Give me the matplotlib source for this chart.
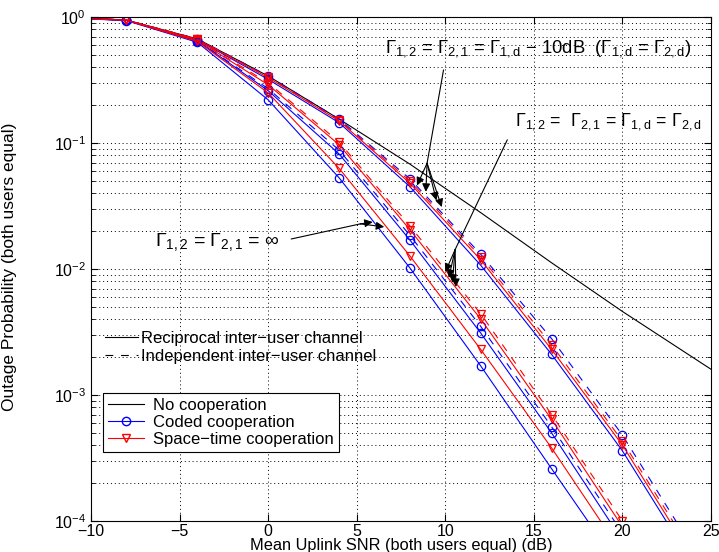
import numpy as np
import matplotlib.pyplot as plt
from matplotlib.lines import Line2D

plt.rcParams['font.family'] = ['Liberation Sans', 'DejaVu Sans']
plt.rcParams['mathtext.fontset'] = 'custom'
plt.rcParams['mathtext.rm'] = 'Liberation Sans'
plt.rcParams['mathtext.it'] = 'Liberation Sans:italic'
plt.rcParams['mathtext.bf'] = 'Liberation Sans:bold'

# SNR (dB) where the curves are sampled; markers sit on -8..20
snr = [-10, -8, -4, 0, 4, 8, 12, 16, 20, 24]
snr_nc = [-10, -8, -4, 0, 4, 8, 12, 16, 20, 25]

# no cooperation
p_nocoop = [0.975, 0.945, 0.67, 0.34, 0.155, 0.068, 0.028, 0.0112, 0.0046, 0.0016]

# inter-user channel 10 dB below uplink
pA_coded_rec = [0.975, 0.945, 0.66, 0.32, 0.145, 0.045, 0.0107, 0.0021, 0.00036, 0.000045]
pA_coded_ind = [0.975, 0.945, 0.67, 0.34, 0.155, 0.052, 0.0131, 0.0028, 0.00048, 0.00006]
pA_st_rec = [0.975, 0.945, 0.665, 0.33, 0.15, 0.048, 0.0118, 0.0023, 0.0004, 0.00005]
pA_st_ind = [0.975, 0.945, 0.67, 0.335, 0.152, 0.050, 0.0125, 0.0025, 0.00043, 0.000055]

# all channels equal
pB_coded_rec = [0.97, 0.94, 0.65, 0.26, 0.082, 0.0170, 0.0031, 0.0005, 0.00007, 0.00001]
pB_coded_ind = [0.97, 0.94, 0.65, 0.27, 0.088, 0.0185, 0.0035, 0.00056, 0.00008, 0.000012]
pB_st_rec = [0.97, 0.945, 0.655, 0.29, 0.097, 0.0205, 0.0040, 0.00064, 0.00009, 0.000013]
pB_st_ind = [0.97, 0.945, 0.66, 0.30, 0.102, 0.0220, 0.0044, 0.0007, 0.0001, 0.000015]

# perfect inter-user channel
pC_coded = [0.965, 0.935, 0.63, 0.22, 0.053, 0.0102, 0.0017, 0.00026, 0.00004, 0.000006]
pC_st = [0.965, 0.94, 0.64, 0.25, 0.063, 0.0127, 0.0023, 0.00038, 0.000055, 0.000008]

fig = plt.figure(figsize=(7.19, 5.52), dpi=100)
ax = fig.add_axes([0.1266, 0.0562, 0.8623, 0.9130])

lw = 0.8
mk = dict(markersize=6, markerfacecolor='none', markeredgewidth=0.9, markevery=slice(1, 9))
dash = (0, (7, 7))

ax.semilogy(snr_nc, p_nocoop, 'k-', lw=lw)

ax.semilogy(snr, pA_coded_rec, 'b-', marker='o', lw=lw, **mk)
ax.semilogy(snr, pA_coded_ind, 'b', linestyle=dash, marker='o', lw=lw, **mk)
ax.semilogy(snr, pA_st_rec, 'r-', marker='v', lw=lw, **mk)
ax.semilogy(snr, pA_st_ind, 'r', linestyle=dash, marker='v', lw=lw, **mk)

ax.semilogy(snr, pB_coded_rec, 'b-', marker='o', lw=lw, **mk)
ax.semilogy(snr, pB_coded_ind, 'b', linestyle=dash, marker='o', lw=lw, **mk)
ax.semilogy(snr, pB_st_rec, 'r-', marker='v', lw=lw, **mk)
ax.semilogy(snr, pB_st_ind, 'r', linestyle=dash, marker='v', lw=lw, **mk)

ax.semilogy(snr, pC_coded, 'b-', marker='o', lw=lw, **mk)
ax.semilogy(snr, pC_st, 'r-', marker='v', lw=lw, **mk)

ax.set_xlim(-10, 25)
ax.set_ylim(1e-4, 1)
ax.set_xticks(np.arange(-10, 26, 5))
ax.grid(True, which='major', color='k', linestyle=(0, (1, 3)), lw=0.7)
ax.grid(True, which='minor', axis='y', color='k', linestyle=(0, (1, 3)), lw=0.7)
ax.tick_params(which='both', direction='in', top=True, right=True, labelsize=11.5)
ax.tick_params(axis='x', pad=2)
ax.tick_params(which='major', length=5)
ax.tick_params(which='minor', length=3)
for s in ax.spines.values():
    s.set_linewidth(0.8)

ax.set_xlabel('Mean Uplink SNR (both users equal) (dB)', fontsize=11.8)
ax.xaxis.set_label_coords(0.5, -0.034)
ax.set_ylabel('Outage Probability (both users equal)', fontsize=12.5)
ax.yaxis.set_label_coords(-0.119, 0.504)

# annotations
arr = dict(arrowstyle='-|>', color='k', lw=0.8, mutation_scale=12, shrinkA=0, shrinkB=0)
seg = dict(arrowstyle='-', color='k', lw=0.8, shrinkA=0, shrinkB=0)

ax.text(6.6, 0.56, r'$\Gamma_{1,2}$ = $\Gamma_{2,1}$ = $\Gamma_{\mathrm{1,d}}$ $-$ 10dB  ($\Gamma_{\mathrm{1,d}}$ = $\Gamma_{\mathrm{2,d}}$)',
        fontsize=13.3, va='center')
ax.annotate('', xy=(8.97, 0.069), xytext=(9.9, 0.38), arrowprops=seg)
for xt, yt in [(8.4, 0.046), (8.9, 0.041), (9.5, 0.035), (9.8, 0.031)]:
    ax.annotate('', xy=(xt, yt), xytext=(8.97, 0.069), arrowprops=arr)

ax.text(13.95, 0.148, r'$\Gamma_{1,2}$ =  $\Gamma_{2,1}$ = $\Gamma_{\mathrm{1,d}}$ = $\Gamma_{\mathrm{2,d}}$',
        fontsize=12.9, va='center')
ax.annotate('', xy=(10.55, 0.0142), xytext=(13.5, 0.106), arrowprops=seg)
for xt, yt in [(10.0, 0.0095), (10.2, 0.0085), (10.4, 0.0078), (10.6, 0.0072)]:
    ax.annotate('', xy=(xt, yt), xytext=(10.55, 0.0142), arrowprops=arr)

ax.text(-6.4, 0.0165, r'$\Gamma_{1,2}$ = $\Gamma_{2,1}$ = $\infty$', fontsize=14, va='center')
ax.annotate('', xy=(5.2, 0.0228), xytext=(1.3, 0.0173), arrowprops=seg)
for xt, yt in [(5.9, 0.0236), (6.55, 0.0216)]:
    ax.annotate('', xy=(xt, yt), xytext=(5.2, 0.0228), arrowprops=arr)

# channel-type legend, no frame
ch_handles = [Line2D([], [], color='k', lw=lw),
              Line2D([], [], color='k', lw=lw, linestyle=dash)]
leg1 = ax.legend(ch_handles, ['Reciprocal inter\u2212user channel', 'Independent inter\u2212user channel'],
                 loc='upper left', bbox_to_anchor=(0.012, 0.39), frameon=False, fontsize=12,
                 handlelength=2.0, handletextpad=0.15, labelspacing=0.15, borderaxespad=0)
ax.add_artist(leg1)

sch_handles = [Line2D([], [], color='k', lw=lw),
               Line2D([], [], color='b', lw=lw, marker='o', markersize=6, markerfacecolor='none'),
               Line2D([], [], color='r', lw=lw, marker='v', markersize=6, markerfacecolor='none')]
leg2 = ax.legend(sch_handles, ['No cooperation', 'Coded cooperation', 'Space\u2212time cooperation'],
                 loc='upper left', bbox_to_anchor=(0.019, 0.254), fontsize=12, fancybox=False,
                 edgecolor='k', framealpha=1, handlelength=2.2, handletextpad=0.5,
                 labelspacing=0.12, borderaxespad=0, borderpad=0.3)
leg2.get_frame().set_linewidth(0.8)

fig.savefig('out.png', dpi=100)
